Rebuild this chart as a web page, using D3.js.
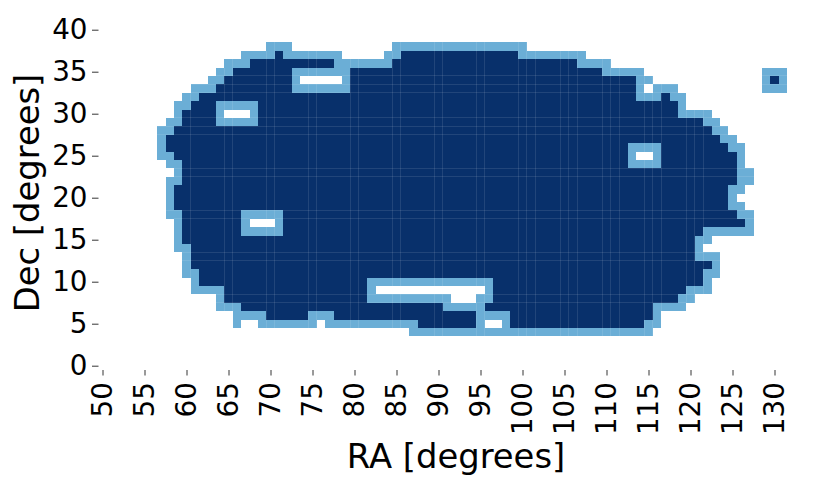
<!DOCTYPE html>
<html lang="en">
<head>
<meta charset="UTF-8">
<title>RA Dec coverage</title>
<style>
    html, body { margin: 0; padding: 0; background: #fff; }
    svg { display: block; }
    text { font-family: "DejaVu Sans", sans-serif; fill: #000; }
</style>
</head>
<body>
<svg id="chart" width="830" height="487"></svg>
<script src="https://cdnjs.cloudflare.com/ajax/libs/d3/7.8.5/d3.min.js"></script>
<script>
"use strict"

const raTicks = d3.range(50, 131, 5);
const decTicks = [0, 5, 10, 15, 20, 25, 30, 35, 40];

// value per run: [dec, first RA, last RA, value], 1 = edge, 2 = full, anything missing = 0
const cellRuns = [
    [38,70,72,1],[38,85,100,1],
    [37,67,70,1],[37,71,71,2],[37,72,78,1],[37,84,85,1],[37,86,99,2],[37,100,107,1],
    [36,65,67,1],[36,68,77,2],[36,78,84,1],[36,85,106,2],[36,107,110,1],
    [35,64,65,1],[35,66,72,2],[35,73,79,1],[35,80,109,2],[35,110,114,1],[35,129,131,1],
    [34,63,64,1],[34,65,72,2],[34,73,73,1],[34,79,79,1],[34,80,113,2],[34,114,115,1],[34,129,129,1],[34,130,130,2],[34,131,131,1],
    [33,61,63,1],[33,64,72,2],[33,73,79,1],[33,80,113,2],[33,114,114,1],[33,116,118,1],[33,129,131,1],
    [32,60,61,1],[32,62,113,2],[32,114,116,1],[32,117,117,2],[32,118,119,1],
    [31,59,60,1],[31,61,63,2],[31,64,68,1],[31,69,118,2],[31,119,119,1],
    [30,59,59,1],[30,60,63,2],[30,64,64,1],[30,68,68,1],[30,69,118,2],[30,119,122,1],
    [29,58,59,1],[29,60,63,2],[29,64,68,1],[29,69,121,2],[29,122,123,1],
    [28,57,58,1],[28,59,122,2],[28,123,124,1],
    [27,57,57,1],[27,58,123,2],[27,124,125,1],
    [26,57,57,1],[26,58,112,2],[26,113,116,1],[26,117,124,2],[26,125,126,1],
    [25,57,58,1],[25,59,112,2],[25,113,113,1],[25,116,116,1],[25,117,125,2],[25,126,126,1],
    [24,58,59,1],[24,60,112,2],[24,113,116,1],[24,117,125,2],[24,126,126,1],
    [23,59,59,1],[23,60,125,2],[23,126,127,1],
    [22,58,59,1],[22,60,125,2],[22,126,127,1],
    [21,58,58,1],[21,59,124,2],[21,125,126,1],
    [20,58,58,1],[20,59,124,2],[20,125,125,1],
    [19,58,58,1],[19,59,124,2],[19,125,126,1],
    [18,58,59,1],[18,60,66,2],[18,67,71,1],[18,72,125,2],[18,126,127,1],
    [17,59,59,1],[17,60,66,2],[17,67,67,1],[17,71,71,1],[17,72,126,2],[17,127,127,1],
    [16,59,59,1],[16,60,66,2],[16,67,71,1],[16,72,121,2],[16,122,127,1],
    [15,59,59,1],[15,60,120,2],[15,121,122,1],
    [14,59,60,1],[14,61,120,2],[14,121,121,1],
    [13,60,60,1],[13,61,120,2],[13,121,123,1],
    [12,60,60,1],[12,61,122,2],[12,123,123,1],
    [11,60,61,1],[11,62,121,2],[11,122,123,1],
    [10,61,61,1],[10,62,81,2],[10,82,96,1],[10,97,121,2],[10,122,122,1],
    [9,61,64,1],[9,65,81,2],[9,82,82,1],[9,96,96,1],[9,97,119,2],[9,120,122,1],
    [8,64,64,1],[8,65,81,2],[8,82,91,1],[8,95,96,1],[8,97,118,2],[8,119,120,1],
    [7,64,66,1],[7,67,90,2],[7,91,95,1],[7,96,115,2],[7,116,119,1],
    [6,66,69,1],[6,70,74,2],[6,75,77,1],[6,78,94,2],[6,95,98,1],[6,99,115,2],[6,116,116,1],
    [5,66,66,1],[5,69,75,1],[5,77,87,1],[5,88,94,2],[5,95,95,1],[5,98,98,1],[5,99,114,2],[5,115,116,1],
    [4,87,115,1]
];

// bin edges where the original mesh shows a faint lighter seam
const seamRA = [60.5,64.5,65.5,69.5,70.5,74.5,75.5,79.5,80.5,84.5,85.5,89.5,90.5,94.5,95.5,99.5,100.5,101.5,
    104.5,105.5,106.5,109.5,110.5,111.5,114.5,115.5,116.5,119.5,120.5,121.5];
const seamDec = [7.5,8.5,12.5,13.5,17.5,18.5,22.5,23.5,27.5,28.5,29.5,32.5,33.5,34.5];

const svg = d3.select("#chart");

const x = d3.scaleLinear().domain([50, 130]).range([102.5, 774.5]);
const y = d3.scaleLinear().domain([0, 40]).range([365.7, 29.7]);
const color = d3.scaleOrdinal().domain([1, 2]).range(["#6baed6", "#08306b"]);

const cells = cellRuns.flatMap(([dec, from, to, value]) =>
    d3.range(from, to + 1).map(ra => ({ra, dec, value})));

const raEdges = new Set(seamRA), decEdges = new Set(seamDec);

svg.append("g")
    .attr("shape-rendering", "crispEdges")
    .selectAll("rect")
    .data(cells)
    .enter()
    .append("rect")
    .attr("x", d => x(d.ra - 0.5))
    .attr("y", d => y(d.dec + 0.5))
    .attr("width", d => x(d.ra + 0.5) - x(d.ra - 0.5))
    .attr("height", d => y(d.dec - 0.5) - y(d.dec + 0.5))
    .attr("fill", d => color(d.value));

/* seams */
const seams = svg.append("g")
    .attr("shape-rendering", "crispEdges")
    .attr("stroke", "#fff")
    .attr("stroke-opacity", 0.1);

seams.selectAll("line.v")
    .data(cells.filter(d => raEdges.has(d.ra + 0.5)))
    .enter()
    .append("line")
    .attr("class", "v")
    .attr("x1", d => Math.floor(x(d.ra + 0.5)) + 0.5)
    .attr("x2", d => Math.floor(x(d.ra + 0.5)) + 0.5)
    .attr("y1", d => Math.round(y(d.dec + 0.5)))
    .attr("y2", d => Math.round(y(d.dec - 0.5)));

seams.selectAll("line.h")
    .data(cells.filter(d => decEdges.has(d.dec + 0.5)))
    .enter()
    .append("line")
    .attr("class", "h")
    .attr("y1", d => Math.floor(y(d.dec + 0.5)) + 0.5)
    .attr("y2", d => Math.floor(y(d.dec + 0.5)) + 0.5)
    .attr("x1", d => Math.round(x(d.ra - 0.5)))
    .attr("x2", d => Math.round(x(d.ra + 0.5)));

/* axes */
const xAxis = svg.append("g")
    .attr("transform", "translate(0,370)")
    .call(d3.axisBottom(x).tickValues(raTicks).tickSize(5.5).tickPadding(0));
xAxis.select(".domain").remove();
xAxis.selectAll("line").attr("stroke", "#000").attr("stroke-width", 0.8);
xAxis.selectAll("text")
    .attr("font-size", 27.8)
    .attr("font-family", "'DejaVu Sans'")
    .attr("text-anchor", "end")
    .attr("dy", 0)
    .attr("y", 0)
    .attr("transform", "translate(8.5,12) rotate(-90)");

const yAxis = svg.append("g")
    .attr("transform", "translate(98.5,0)")
    .call(d3.axisLeft(y).tickValues(decTicks).tickSize(6.5).tickPadding(4.5));
yAxis.select(".domain").remove();
yAxis.selectAll("line").attr("stroke", "#000").attr("stroke-width", 0.8);
yAxis.selectAll("text")
    .attr("font-size", 27.8)
    .attr("font-family", "'DejaVu Sans'");

svg.append("text")
    .attr("x", 456)
    .attr("y", 468)
    .attr("text-anchor", "middle")
    .attr("font-size", 33.8)
    .text("RA [degrees]");

svg.append("text")
    .attr("transform", "translate(38.5,193) rotate(-90)")
    .attr("text-anchor", "middle")
    .attr("font-size", 33.8)
    .text("Dec [degrees]");
</script>
</body>
</html>
